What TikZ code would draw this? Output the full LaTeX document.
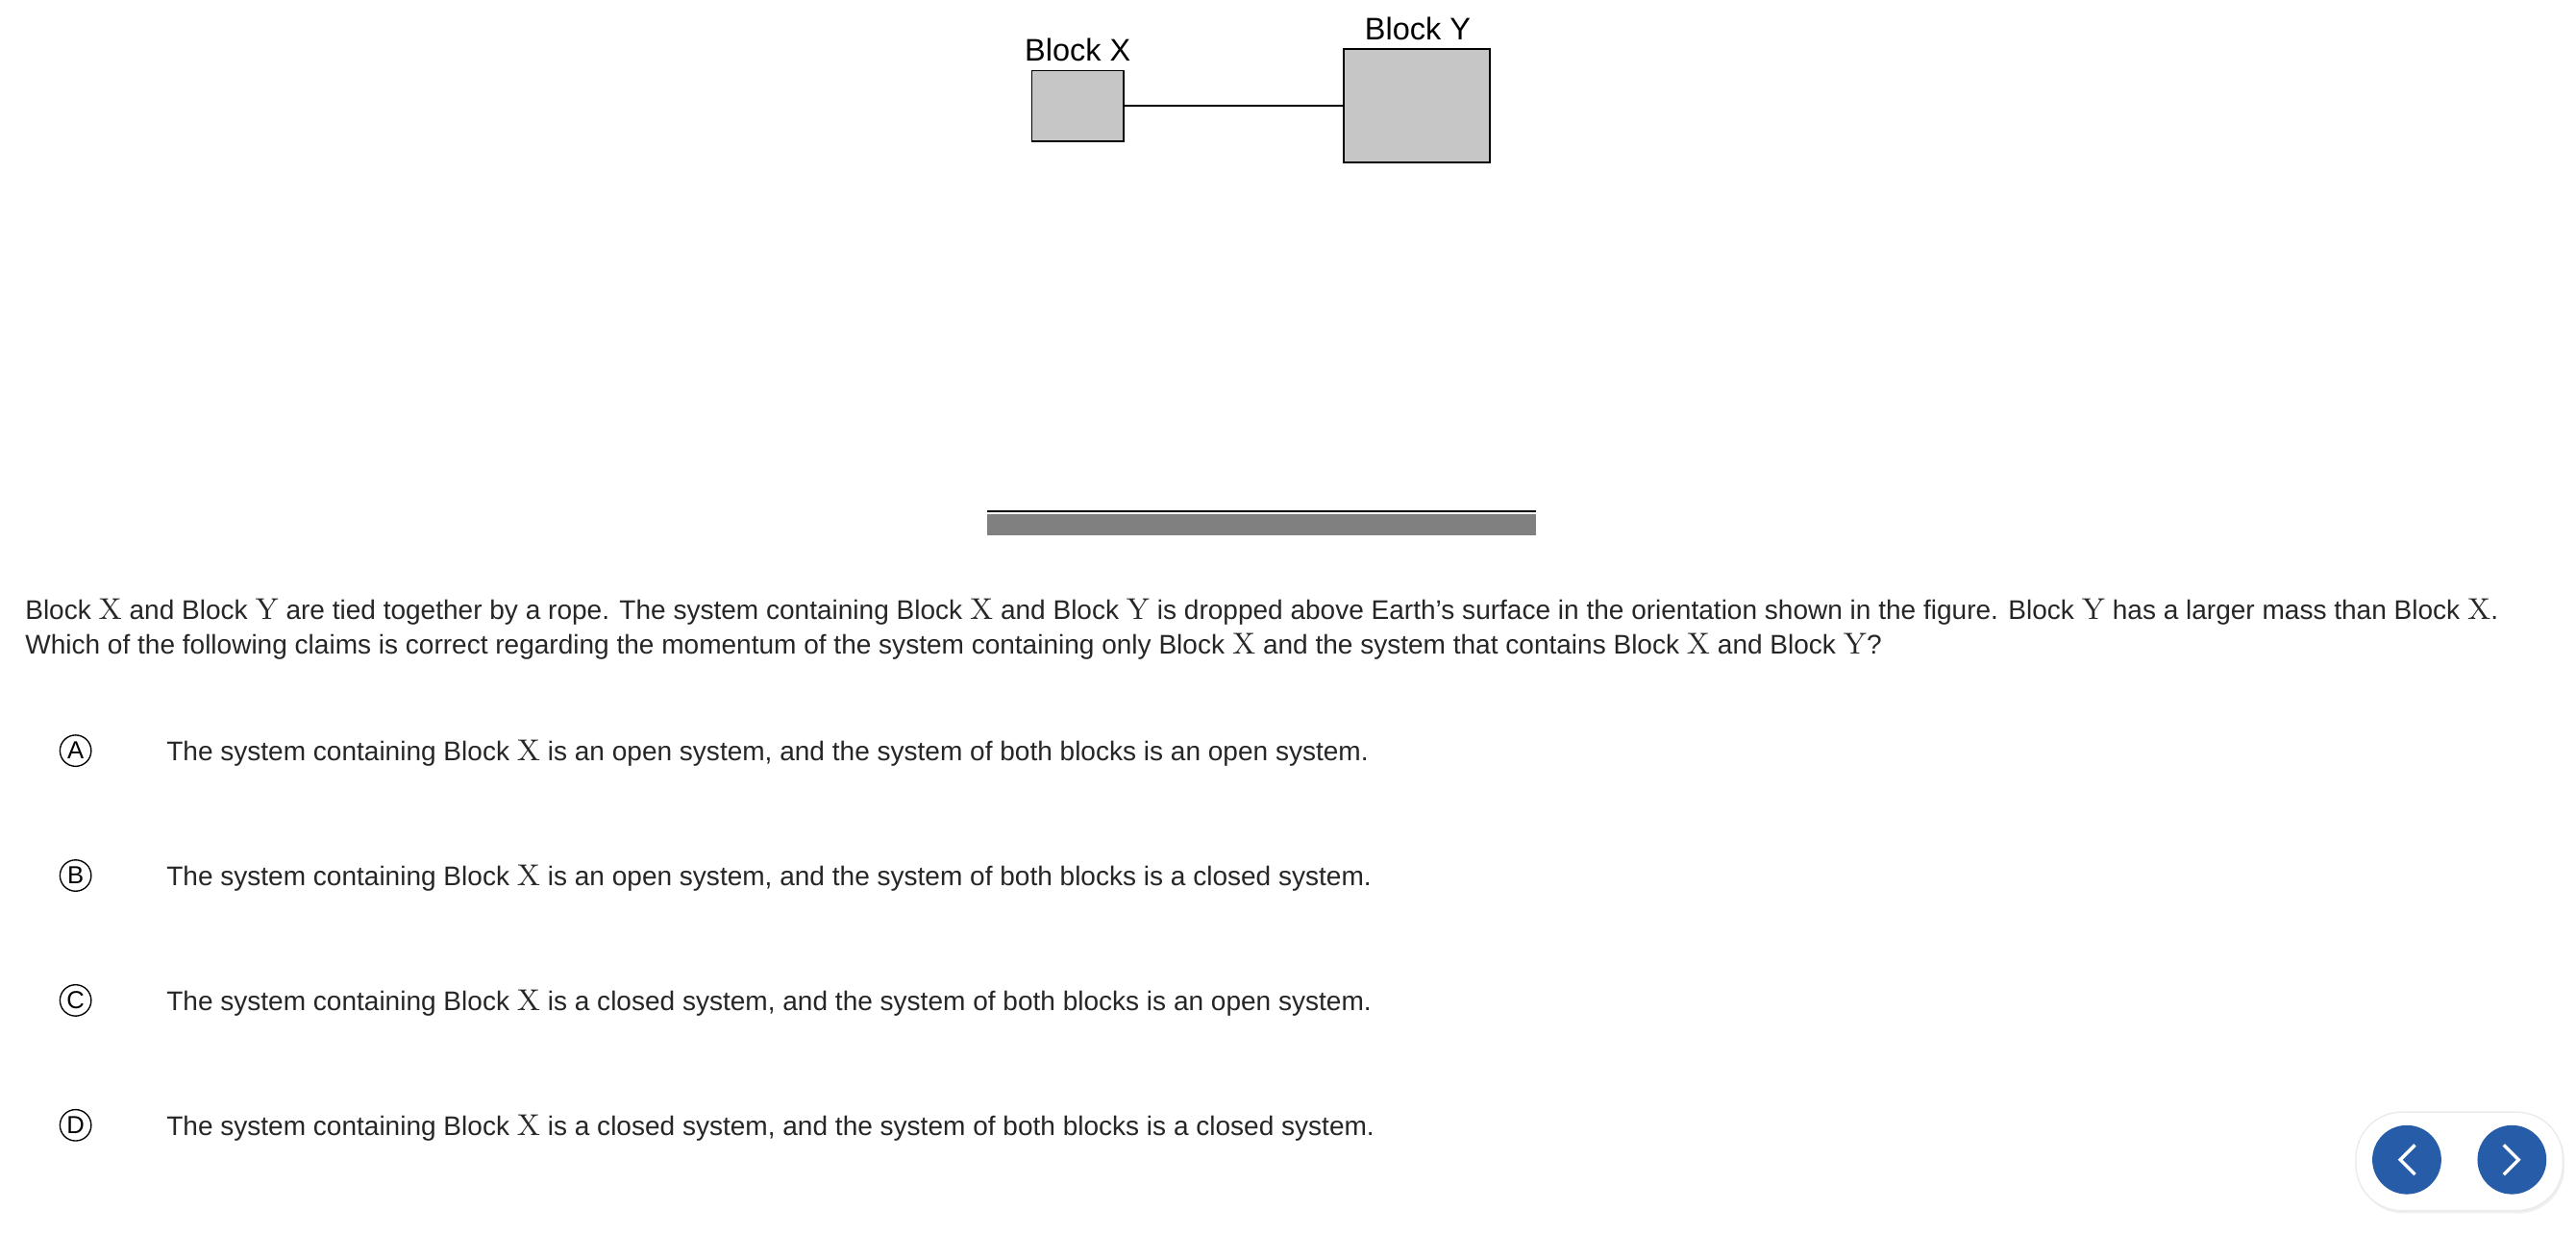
\documentclass[tikz,border=0pt]{standalone}
\usepackage{fontspec}
\setmainfont{Liberation Sans}
\newfontfamily\lm{Latin Modern Roman}[Scale=1.12]
\usetikzlibrary{shadows}
\newcommand{\vX}{{\lm X}}
\newcommand{\vY}{{\lm Y}}
\begin{document}
\begin{tikzpicture}[x=0.5pt,y=-0.5pt,
  blk/.style={draw=black,fill=gray!45,line width=0.5pt},
  txt/.style={inner sep=0,anchor=base west,font=\fontsize{8.2}{10}\selectfont,text=black!85},
  opt/.style={draw=black,circle,minimum size=9.5pt,inner sep=0,font=\fontsize{7.5}{8}\selectfont},
  btn/.style={circle,minimum size=21pt,inner sep=0}]
\useasboundingbox (0,0) rectangle (1568,766.4);
\fill[white] (0,0) rectangle (1568,766.4);
\node[blk,minimum width=28pt,minimum height=21.5pt,inner sep=0] (bx) at (656,64.5) {};
\node[blk,minimum width=44.5pt,minimum height=34.5pt,inner sep=0] (by) at (862.5,64.5) {};
\node[font=\fontsize{9.5}{11}\selectfont,anchor=base] (lx) at (656,37) {Block X};
\node[font=\fontsize{9.5}{11}\selectfont,anchor=base] (ly) at (863,24) {Block Y};
\draw[line width=0.5pt] (bx.east) -- (by.west);
\draw[line width=0.6pt] (601,311) -- (935,311);
\fill[black!50] (601,313) rectangle (935,326);
\node[txt] (p1) at (15,377) {Block \vX{} and Block \vY{} are tied together by a rope. The system containing Block \vX{} and Block \vY{} is dropped above Earth’s surface in the orientation shown in the figure. Block \vY{} has a larger mass than Block \vX.};
\node[txt] (p2) at (15,398) {Which of the following claims is correct regarding the momentum of the system containing only Block \vX{} and the system that contains Block \vX{} and Block \vY?};
\foreach \l/\y/\t in {A/457/{The system containing Block \vX{} is an open system, and the system of both blocks is an open system.},
 B/533/{The system containing Block \vX{} is an open system, and the system of both blocks is a closed system.},
 C/609/{The system containing Block \vX{} is a closed system, and the system of both blocks is an open system.},
 D/685/{The system containing Block \vX{} is a closed system, and the system of both blocks is a closed system.}}{
  \node[opt] (o\l) at (46,\y) {\l};
  \node[txt] (t\l) at (101,\y+6) {\t};
}
\node[draw=black!8,fill=white,rounded corners=14pt,minimum width=63pt,minimum height=30pt,drop shadow={opacity=0.12,shadow xshift=0.5pt,shadow yshift=-0.8pt}] (bar) at (1497,707) {};
\node[btn,fill={rgb,255:red,38;green,92;blue,168}] (b1) at (1465,706) {};
\node[btn,fill={rgb,255:red,38;green,92;blue,168}] (b2) at (1529,706) {};
\draw[white,line width=1pt] (1470,697) -- (1461,706) -- (1470,715);
\draw[white,line width=1pt] (1524,697) -- (1533,706) -- (1524,715);
\end{tikzpicture}
\end{document}
